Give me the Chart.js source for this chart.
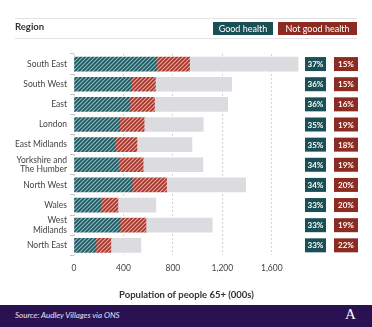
<!DOCTYPE html>
<html>
<head>
<meta charset="utf-8">
<script src="https://cdn.jsdelivr.net/npm/chart.js@4"></script>
<style>
  body { margin: 0; width: 372px; height: 327px; position: relative; background: #fff; font-family: Lato, "Open Sans", sans-serif; overflow: hidden; }
  #chartBox { position: absolute; left: 0; top: 0; width: 372px; height: 305px; }
  .rule { position: absolute; left: 15px; width: 342px; height: 1px; background: #e2e2e6; }
  #region { position: absolute; left: 15px; top: 21px; font-size: 9.5px; font-weight: bold; color: #333; }
  .leg { position: absolute; top: 22px; height: 13px; line-height: 13px; font-size: 9px; color: #fff; text-align: center; }
  #footer { position: absolute; left: 0; top: 305px; width: 372px; height: 22px; background: #2a1152; color: #e6e0ee; }
  #source { position: absolute; left: 15px; top: 5px; font-size: 8px; font-style: italic; }
  #logo { position: absolute; left: 345px; top: 1px; font-size: 15px; font-family: "Liberation Serif", serif; color: #fff; }
</style>
</head>
<body>
<div id="chartBox"><canvas id="myChart" width="372" height="305"></canvas></div>
<div class="rule" style="top:18px"></div>
<div class="rule" style="top:38px"></div>
<div id="region">Region</div>
<div class="leg" style="left:213px;width:60px;background:#1b4f56">Good health</div>
<div class="leg" style="left:278px;width:79px;background:#8c2b21">Not good health</div>
<div id="footer"><div id="source">Source: Audley Villages via ONS</div><div id="logo">A</div></div>
<script>
// Data (thousands of people aged 65+)
var regions = ["South East", "South West", "East", "London", "East Midlands",
  ["Yorkshire and", "The Humber"], "North West", "Wales", ["West", "Midlands"], "North East"];
var totalPop = [1812, 1275, 1243, 1045, 954, 1043, 1389, 662, 1118, 541];
var goodHealth = [667, 463, 452, 370, 335, 360, 470, 219, 372, 178];
var notGoodHealth = [268, 195, 199, 197, 174, 199, 279, 136, 210, 120];
var goodPct = [37, 36, 36, 35, 35, 34, 34, 33, 33, 33];
var notGoodPct = [15, 15, 16, 19, 18, 19, 20, 20, 19, 22];
var xTicks = [0, 400, 800, 1200, 1600];

var rest = totalPop.map(function (t, i) { return t - goodHealth[i] - notGoodHealth[i]; });

function hatch(base, stripe) {
  var c = document.createElement("canvas");
  c.width = 4; c.height = 4;
  var g = c.getContext("2d");
  g.fillStyle = base;
  g.fillRect(0, 0, 4, 4);
  g.strokeStyle = stripe;
  g.lineWidth = 1.2;
  g.beginPath();
  g.moveTo(-1, 5); g.lineTo(5, -1);
  g.moveTo(-1, 1); g.lineTo(1, -1);
  g.moveTo(3, 5); g.lineTo(5, 3);
  g.stroke();
  return g.createPattern(c, "repeat");
}

var ctx = document.getElementById("myChart").getContext("2d");

// percentage boxes on the right
var pctBoxes = {
  id: "pctBoxes",
  afterDatasetsDraw: function (chart) {
    var c = chart.ctx;
    var y = chart.scales.y;
    var x0 = chart.chartArea.right;
    c.save();
    c.font = "bold 8px Lato, sans-serif";
    c.textAlign = "center";
    c.textBaseline = "middle";
    for (var i = 0; i < regions.length; i++) {
      var cy = y.getPixelForValue(i);
      c.fillStyle = "#1b4f56";
      c.fillRect(x0 + 6, cy - 7, 21, 14);
      c.fillStyle = "#8c2b21";
      c.fillRect(x0 + 35, cy - 7, 24, 14);
      c.fillStyle = "#fff";
      c.fillText(goodPct[i] + "%", x0 + 16.5, cy + 0.5);
      c.fillText(notGoodPct[i] + "%", x0 + 47, cy + 0.5);
    }
    c.restore();
  }
};

new Chart(ctx, {
  type: "bar",
  data: {
    labels: regions,
    datasets: [
      { label: "Good health", data: goodHealth, backgroundColor: hatch("#1d5960", "#8fb6bd") },
      { label: "Not good health", data: notGoodHealth, backgroundColor: hatch("#a2362c", "#eba59d") },
      { label: "Total", data: rest, backgroundColor: "#dcdce0" }
    ]
  },
  options: {
    indexAxis: "y",
    responsive: false,
    animation: false,
    layout: { padding: { top: 54, right: 73, bottom: 4, left: 0 } },
    plugins: { legend: { display: false }, tooltip: { enabled: false } },
    datasets: { bar: { barThickness: 14, borderWidth: 0 } },
    scales: {
      x: {
        stacked: true,
        min: 0,
        max: 1820,
        afterBuildTicks: function (axis) {
          axis.ticks = xTicks.map(function (v) { return { value: v }; });
        },
        border: { display: false, dash: [2, 2] },
        grid: { color: "#d4d4d8", lineWidth: 1, drawTicks: false },
        ticks: {
          padding: 8,
          color: "#444",
          font: { family: "Lato", size: 8.5 },
          callback: function (v) { return v.toLocaleString("en-GB"); }
        },
        title: {
          display: true,
          text: "Population of people 65+ (000s)",
          color: "#333",
          font: { family: "Lato", size: 9.5, weight: "bold" },
          padding: { top: 8, bottom: 0 }
        }
      },
      y: {
        stacked: true,
        afterFit: function (axis) { axis.width = 74; },
        border: { display: false },
        grid: { display: true, drawOnChartArea: false, drawTicks: true, tickLength: 4, color: "#b9c8d0" },
        ticks: {
          autoSkip: false,
          color: "#444",
          font: { family: "Lato", size: 8.5, lineHeight: 1.15 },
          padding: 3
        }
      }
    }
  },
  plugins: [pctBoxes]
});
</script>
</body>
</html>
